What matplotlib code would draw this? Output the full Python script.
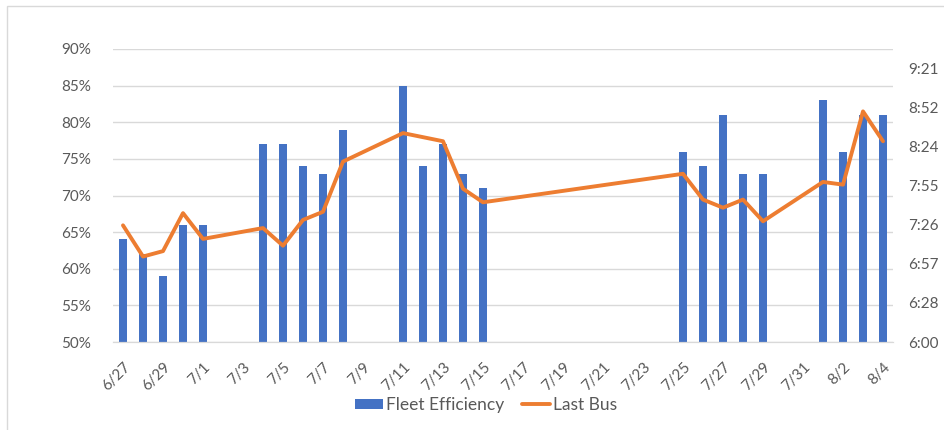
import datetime as dt

import matplotlib
matplotlib.use("Agg")
import matplotlib.pyplot as plt
from matplotlib.patches import Rectangle
from matplotlib.ticker import FixedLocator, FuncFormatter

plt.rcParams['font.family'] = ['Lato', 'DejaVu Sans']

# Service days (month, day) with fleet efficiency and time of the last bus
days = [(6, 27), (6, 28), (6, 29), (6, 30), (7, 1),
        (7, 4), (7, 5), (7, 6), (7, 7), (7, 8),
        (7, 11), (7, 12), (7, 13), (7, 14), (7, 15),
        (7, 25), (7, 26), (7, 27), (7, 28), (7, 29),
        (8, 1), (8, 2), (8, 3), (8, 4)]
fleet_efficiency = [0.64, 0.62, 0.59, 0.66, 0.66,
                    0.77, 0.77, 0.74, 0.73, 0.79,
                    0.85, 0.74, 0.77, 0.73, 0.71,
                    0.76, 0.74, 0.81, 0.73, 0.73,
                    0.83, 0.76, 0.81, 0.81]
last_bus = ['7:26', '7:03', '7:07', '7:35', '7:16',
            '7:24', '7:11', '7:30', '7:36', '8:13',
            '8:34', '8:31', '8:28', '7:53', '7:43',
            '8:04', '7:45', '7:39', '7:45', '7:29',
            '7:58', '7:56', '8:50', '8:28']

BLUE = '#4472C4'
ORANGE = '#ED7D31'
GRID = '#D9D9D9'
TEXT = '#595959'


def to_day_fraction(hhmm):
    h, m = hhmm.split(':')
    return (int(h) * 60 + int(m)) / 1440.0


def fmt_time(v, pos=None):
    minutes = int(v * 1440 + 1e-6)
    return f"{minutes // 60}:{minutes % 60:02d}"


dates = [dt.datetime(2022, m, d) for m, d in days]
times = [to_day_fraction(t) for t in last_bus]

W, H = 944, 430
fig = plt.figure(figsize=(W / 100, H / 100), dpi=100)

# light frame around the chart area
fig.patches.append(Rectangle((7 / W, -0.1), 1.2, (H - 6) / H + 0.1,
                             transform=fig.transFigure, fill=False,
                             edgecolor=GRID, linewidth=1.0))

ax = fig.add_axes([113 / W, (H - 342) / H, 780 / W, (342 - 49) / H])
ax2 = ax.twinx()

ax.bar(dates, fleet_efficiency, width=0.4, color=BLUE, label='Fleet Efficiency', zorder=2)
ax2.plot(dates, times, color=ORANGE, linewidth=2.8, solid_capstyle='round',
         solid_joinstyle='round', label='Last Bus', zorder=3)

start = dt.datetime(2022, 6, 27)
end = dt.datetime(2022, 8, 4)
ax.set_xlim(start - dt.timedelta(hours=12), end + dt.timedelta(hours=12))
xticks = [start + dt.timedelta(days=2 * i) for i in range(20)]
ax.set_xticks(xticks)
ax.set_xticklabels([f"{d.month}/{d.day}" for d in xticks], rotation=45,
                   ha='right', rotation_mode='anchor')

ax.set_ylim(0.5, 0.9)
ax.set_yticks([0.5 + 0.05 * i for i in range(9)])
ax.yaxis.set_major_formatter(FuncFormatter(lambda v, p: f"{round(v * 100)}%"))
ax.grid(axis='y', color=GRID, linewidth=1.0, zorder=0)
ax.set_axisbelow(True)

ax2.set_ylim(0.25, 0.40)
ax2.yaxis.set_major_locator(FixedLocator([0.25 + 0.02 * i for i in range(8)]))
ax2.yaxis.set_major_formatter(FuncFormatter(fmt_time))

for a in (ax, ax2):
    for side in ('top', 'left', 'right'):
        a.spines[side].set_visible(False)
    a.spines['bottom'].set_color(GRID)
    a.tick_params(length=0, labelsize=11, labelcolor=TEXT)
ax.tick_params(axis='y', pad=16)
ax.tick_params(axis='x', pad=13)
ax2.tick_params(axis='y', pad=11)

handles = ax.get_legend_handles_labels()[0] + ax2.get_legend_handles_labels()[0]
labels = ['Fleet Efficiency', 'Last Bus']
fig.legend(handles, labels, loc='center', bbox_to_anchor=(486 / W, (H - 405) / H),
           ncol=2, frameon=False, fontsize=12.5, labelcolor=TEXT,
           handlelength=1.6, handleheight=0.55, columnspacing=1.0, handletextpad=0.2)

fig.savefig('out.png', dpi=100)
